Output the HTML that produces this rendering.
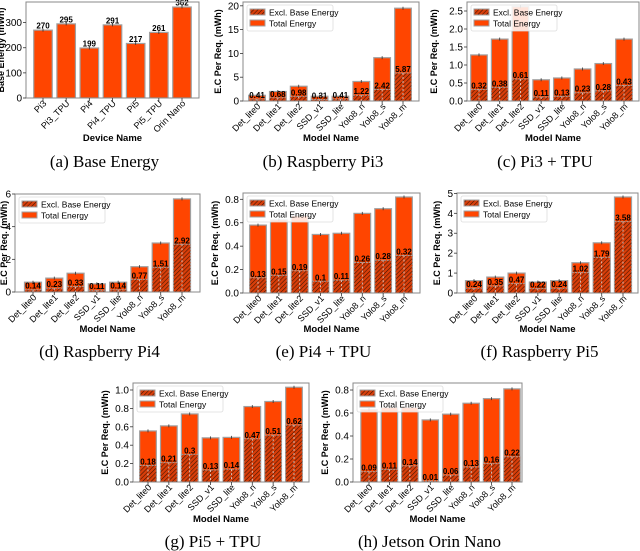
<!DOCTYPE html>
<html><head><meta charset="utf-8">
<style>
body{margin:0;background:#fff;}
svg{display:block;font-family:"Liberation Sans",sans-serif;}
.cap{font-family:"Liberation Serif",serif;font-size:17px;}
</style></head>
<body>
<svg id="fig" width="640" height="551" viewBox="0 0 640 551" xmlns="http://www.w3.org/2000/svg">
<defs>
<pattern id="hatch" patternUnits="userSpaceOnUse" width="3" height="3" patternTransform="rotate(45)">
<rect width="3" height="3" fill="#d83e0a"/>
<line x1="0" y1="0" x2="0" y2="3" stroke="#3a1200" stroke-width="1.1"/>
</pattern>
</defs>
</svg>
<script>
const devices = ["Pi3","Pi3_TPU","Pi4","Pi4_TPU","Pi5","Pi5_TPU","Orin Nano"];
const baseEnergy = [270,295,199,291,217,261,362];
const models = ["Det_lite0","Det_lite1","Det_lite2","SSD_v1","SSD_lite","Yolo8_n","Yolo8_s","Yolo8_m"];
const pi3Total = [1.2,2.0,3.1,1.0,1.0,4.1,9.1,19.5];
const pi3Excl = [0.41,0.68,0.98,0.31,0.41,1.22,2.42,5.87];
const pi3tpuTotal = [1.28,1.72,2.62,0.59,0.64,0.89,1.04,1.72];
const pi3tpuExcl = [0.32,0.38,0.61,0.11,0.13,0.23,0.28,0.43];
const pi4Total = [0.6,0.85,1.15,0.5,0.6,1.55,3.0,5.7];
const pi4Excl = [0.14,0.23,0.33,0.11,0.14,0.77,1.51,2.92];
const pi4tpuTotal = [0.58,0.625,0.66,0.5,0.51,0.68,0.72,0.82];
const pi4tpuExcl = [0.13,0.15,0.19,0.1,0.11,0.26,0.28,0.32];
const pi5Total = [0.62,0.8,1.0,0.55,0.62,1.52,2.52,4.82];
const pi5Excl = [0.24,0.35,0.47,0.22,0.24,1.02,1.79,3.58];
const pi5tpuTotal = [0.555,0.61,0.74,0.48,0.485,0.82,0.875,1.03];
const pi5tpuExcl = [0.18,0.21,0.3,0.13,0.14,0.47,0.51,0.62];
const orinTotal = [0.63,0.65,0.65,0.54,0.59,0.685,0.725,0.81];
const orinExcl = [0.09,0.11,0.14,0.01,0.06,0.13,0.16,0.22];
const ticksA = [0,100,200,300];
const ticksB = [0,5,10,15,20];
const ticksC = [0,0.5,1.0,1.5,2.0,2.5];
const ticksD = [0,2,4,6];
const ticksE = [0,0.2,0.4,0.6,0.8];
const ticksF = [0,1,2,3,4,5];
const ticksG = [0,0.2,0.4,0.6,0.8,1.0];
const ticksH = [0,0.2,0.4,0.6,0.8];

const NS="http://www.w3.org/2000/svg";
const svg=document.getElementById('fig');
function mk(tag,attrs,parent){const e=document.createElementNS(NS,tag);for(const k in attrs)e.setAttribute(k,attrs[k]);(parent||svg).appendChild(e);return e;}

function panel(p){
  const g=mk('g',{});
  
  
  const {L,R,T,B,ymax,cats,total,excl,ticks,dec}=p;
  const n=cats.length;
  const sp=(p.last-p.first)/(n-1);
  const xs=i=>p.first+i*sp;
  const ys=v=>B-(v/ymax)*(B-T);
  const bw=sp*0.8;
  const clip='clip-'+p.name;
  const cp=mk('clipPath',{id:clip},g);mk('rect',{x:L,y:T,width:R-L,height:B-T},cp);
  const bars=mk('g',{'clip-path':'url(#'+clip+')'},g);
  for(let i=0;i<n;i++){
    const x=xs(i)-bw/2;
    const r=mk('rect',{x:x,y:ys(total[i]),width:bw,height:B-ys(total[i]),fill:'#ff4500',stroke:'#a0a0a0','stroke-width':1.2},bars);
    
    
    mk('line',{x1:xs(i),x2:xs(i),y1:ys(total[i])-1.5,y2:ys(total[i])+1.5,stroke:'#333','stroke-width':0.8},bars);
    if(excl){
      const h=mk('rect',{x:x,y:ys(excl[i]),width:bw,height:B-ys(excl[i]),fill:'url(#hatch)',stroke:'#a0a0a0','stroke-width':1,'stroke-dasharray':'2,1'},bars);
      
      
      mk('line',{x1:xs(i),x2:xs(i),y1:ys(excl[i]),y2:B,stroke:'#ddd','stroke-width':0.8,'stroke-dasharray':'2,2'},bars);
      const t=mk('text',{x:xs(i),y:ys(excl[i])-1,'text-anchor':'middle','font-size':8,'font-weight':'bold',fill:'#000'},g);
      t.textContent=String(excl[i]);
      
      
    } else {
      const t=mk('text',{x:xs(i),y:ys(total[i])-1.5,'text-anchor':'middle','font-size':8,'font-weight':'bold',fill:'#000'},g);
      t.textContent=String(total[i]);
      
      
    }
  }
  mk('rect',{x:L,y:T,width:R-L,height:B-T,fill:'none',stroke:'#888','stroke-width':1},g);
  ticks.forEach(v=>{
    const y=ys(v);
    mk('line',{x1:L-3,x2:L,y1:y,y2:y,stroke:'#333','stroke-width':0.8},g);
    const t=mk('text',{x:L-4,y:y+3.5,'text-anchor':'end','font-size':10,fill:'#000'},g);
    t.textContent=dec?v.toFixed(dec):String(v);
    
    
  });
  cats.forEach((c,i)=>{
    mk('line',{x1:xs(i),x2:xs(i),y1:B,y2:B+3,stroke:'#333','stroke-width':0.8},g);
    const ax=xs(i)+4, ay=B+6;
    const t=mk('text',{x:ax,y:ay,'text-anchor':'end','font-size':9,transform:`rotate(-45 ${ax} ${ay})`,fill:'#000'},g);
    t.textContent=c;
    
    
  });
  const yl=mk('text',{x:p.ylx,y:(T+B)/2,'text-anchor':'middle','font-size':9,'font-weight':'bold',transform:`rotate(-90 ${p.ylx} ${(T+B)/2})`},g);
  yl.textContent=p.ylabel;
  
  
  const xl=mk('text',{x:(L+R)/2,y:p.xly,'text-anchor':'middle','font-size':9.5,'font-weight':'bold'},g);
  xl.textContent=p.xlabel;
  
  
  const cap=mk('text',{x:(L+R)/2-8,y:p.capy,'text-anchor':'middle','class':'cap'},g);
  cap.textContent=p.caption;
  
  
  if(excl){
    const lg=mk('g',{},g);
    
    
    const lx=L+4,ly=T+3;
    mk('rect',{x:lx,y:ly,width:86,height:26,fill:'#fff','fill-opacity':0.85,stroke:'#ddd','stroke-width':0.8,rx:2},lg);
    mk('rect',{x:lx+3,y:ly+4,width:15,height:6,fill:'url(#hatch)',stroke:'#a0a0a0'},lg);
    mk('rect',{x:lx+3,y:ly+15,width:15,height:6,fill:'#ff4500',stroke:'#a0a0a0'},lg);
    const t1=mk('text',{x:lx+22,y:ly+10.5,'font-size':8.5},lg);t1.textContent='Excl. Base Energy';
    
    
    const t2=mk('text',{x:lx+22,y:ly+21.5,'font-size':8.5},lg);t2.textContent='Total Energy';
    
    
  }
}
const YL='E.C Per Req. (mWh)', XL='Model Name';
panel({name:'panel-a',L:26,R:199,T:2,B:98,ymax:382,first:43,last:182,cats:devices,total:baseEnergy,excl:null,ticks:ticksA,dec:0,ylabel:'Base Energy (mWh)',ylx:4,xlabel:'Device Name',xly:141,caption:'(a) Base Energy',capy:167});
panel({name:'panel-b',L:243,R:419,T:2,B:101,ymax:20.8,first:257,last:403,cats:models,total:pi3Total,excl:pi3Excl,ticks:ticksB,dec:0,ylabel:YL,ylx:221,xlabel:XL,xly:141,caption:'(b) Raspberry Pi3',capy:167});
panel({name:'panel-c',L:467,R:639,T:2,B:101,ymax:2.75,first:479,last:624,cats:models,total:pi3tpuTotal,excl:pi3tpuExcl,ticks:ticksC,dec:1,ylabel:YL,ylx:437,xlabel:XL,xly:141,caption:'(c) Pi3 + TPU',capy:167});
panel({name:'panel-d',L:15,R:200,T:194,B:292,ymax:6.0,first:33,last:182,cats:models,total:pi4Total,excl:pi4Excl,ticks:ticksD,dec:0,ylabel:YL,ylx:7,xlabel:XL,xly:332,caption:'(d) Raspberry Pi4',capy:357});
panel({name:'panel-e',L:243,R:420,T:193,B:293,ymax:0.854,first:258,last:404,cats:models,total:pi4tpuTotal,excl:pi4tpuExcl,ticks:ticksE,dec:1,ylabel:YL,ylx:218,xlabel:XL,xly:332,caption:'(e) Pi4 + TPU',capy:357});
panel({name:'panel-f',L:457,R:638,T:193,B:293,ymax:5.02,first:474,last:623,cats:models,total:pi5Total,excl:pi5Excl,ticks:ticksF,dec:0,ylabel:YL,ylx:440,xlabel:XL,xly:332,caption:'(f) Raspberry Pi5',capy:357});
panel({name:'panel-g',L:133,R:309,T:383,B:482,ymax:1.076,first:148,last:294,cats:models,total:pi5tpuTotal,excl:pi5tpuExcl,ticks:ticksG,dec:1,ylabel:YL,ylx:108,xlabel:XL,xly:522,caption:'(g) Pi5 + TPU',capy:547});
panel({name:'panel-h',L:353,R:522,T:383,B:482,ymax:0.861,first:369,last:512,cats:models,total:orinTotal,excl:orinExcl,ticks:ticksH,dec:1,ylabel:YL,ylx:328,xlabel:XL,xly:522,caption:'(h) Jetson Orin Nano',capy:547});
</script>
</body></html>
